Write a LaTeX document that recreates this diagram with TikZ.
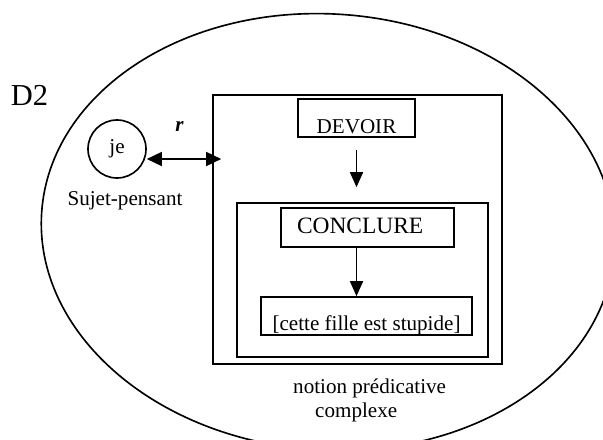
\documentclass[tikz,border=0pt]{standalone}
\usepackage{fontspec}
\setmainfont{Liberation Serif}
\usetikzlibrary{positioning,arrows.meta}
\tikzset{
  frame/.style={draw=black,line width=1.4pt,inner sep=0pt},
  concept/.style={frame,font=\fontsize{18}{21}\selectfont},
  lbl/.style={inner sep=0pt,font=\fontsize{18}{20.5}\selectfont},
  flow/.style={-{Triangle[length=4.5mm,width=3.9mm]},line width=1.4pt,draw=black},
  relation/.style={{Triangle[length=4.5mm,width=4.2mm]}-{Triangle[length=4.5mm,width=4.2mm]},line width=1.4pt,draw=black}
}
\begin{document}
\begin{tikzpicture}[x=.3mm,y=-.3mm]
\useasboundingbox (0,0) rectangle (603,439);
% domaine D2
\draw[line width=1.4pt,rotate around={-4:(328,232)}] (328,232) ellipse [x radius=287,y radius=218];
\node[anchor=base,inner sep=0pt,font=\fontsize{26}{28}\selectfont] (d2) at (29.5,105) {D2};

% sujet
\node[concept,circle,minimum size=17.4mm] (je) at (117,149) {je};
\node[lbl,below=3.6mm of je,xshift=2.4mm] (sujet) {Sujet-pensant};

% notion predicative
\node[frame,minimum width=86.7mm,minimum height=80.7mm] (pred) at (357.5,229.5) {};
\node[frame,minimum width=75.3mm,minimum height=46.2mm] (conclframe) at (362.5,280) {};
\node[concept,minimum width=35.1mm,text height=10.2mm,text depth=1.2mm] (devoir) at (356.5,118) {DEVOIR};
\node[concept,font=\fontsize{20}{22}\selectfont,inner xsep=4.8mm,text width=42.3mm,align=left,
  text height=7.5mm,text depth=4.2mm] (conclure) at (367.5,227.5) {CONCLURE};
\node[concept,minimum width=63.3mm,text height=9.9mm,text depth=1.5mm] (stupide) at (366.5,316) {[cette fille est stupide]};
\node[lbl,anchor=north west,align=left] (legende) at (293,379) {notion prédicative\\\hspace*{6.6mm}complexe};

\draw[relation,shorten >=-2.7mm] ([yshift=-3mm]je.east) -- ([yshift=-3mm]je.east -| pred.west)
  node[midway,above=8mm,inner sep=0pt,font=\fontsize{18}{20}\selectfont\bfseries\itshape] {r};
\draw[flow,shorten <=3.6mm,shorten >=6mm] (devoir.south) -- (devoir.south |- conclure.north);
\draw[flow] (devoir.south |- conclure.south) -- (devoir.south |- stupide.north);
\end{tikzpicture}
\end{document}
